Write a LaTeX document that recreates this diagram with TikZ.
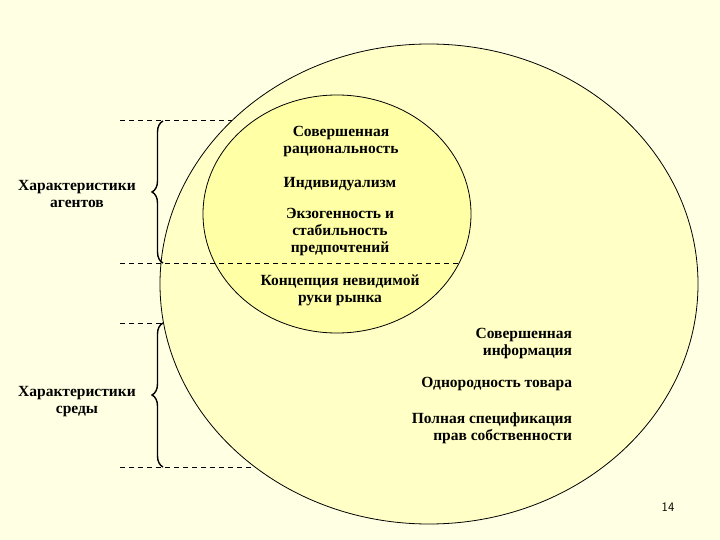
\documentclass[tikz,border=0pt]{standalone}
\usepackage{fontspec}
\setmainfont{Liberation Serif}
\usetikzlibrary{decorations.pathreplacing}
\definecolor{pagebg}{HTML}{FFFFE3}
\definecolor{outerfill}{HTML}{FFFFC6}
\definecolor{innerfill}{HTML}{FFFFA6}
\tikzset{
  lbl/.style={font=\bfseries\fontsize{15.5}{17}\selectfont, align=center, inner sep=0pt, outer sep=0pt},
  lblr/.style={lbl, align=right, anchor=east},
  guide/.style={draw=black, line width=0.7pt, dash pattern=on 5pt off 4pt},
  curly/.style={draw=black, line width=1.4pt, decorate, decoration={brace, amplitude=11pt}}
}
\begin{document}
\begin{tikzpicture}[x=1pt, y=1pt, yscale=-1]
  \fill[pagebg] (0,0) rectangle (720,540);
  \useasboundingbox (0,0) rectangle (720,540);
  % circles
  \path[draw=black, fill=outerfill, line width=0.8pt] (429,284) ellipse (269 and 240);
  \path[draw=black, fill=innerfill, line width=0.8pt] (337,214) ellipse (134 and 119);
  % guide lines
  \coordinate (ga1) at (120,120);
  \coordinate (gb1) at (232,120);
  \coordinate (ga2) at (120,263);
  \coordinate (gb2) at (461,263);
  \coordinate (ga3) at (120,323);
  \coordinate (gb3) at (164,323);
  \coordinate (ga4) at (120,467);
  \coordinate (gb4) at (256,467);
  \draw[guide] (ga1) -- (gb1);
  \draw[guide] (ga2) -- (gb2);
  \draw[guide] (ga3) -- (gb3);
  \draw[guide] (ga4) -- (gb4);
  % braces
  \coordinate (ba1) at (163,263);
  \coordinate (bb1) at (163,121);
  \coordinate (ba2) at (163,467);
  \coordinate (bb2) at (163,323);
  \draw[curly] (ba1) -- (bb1);
  \draw[curly] (ba2) -- (bb2);
  % inner texts
  \node[lbl] (ratio) at (341,142) {Совершенная\\рациональность};
  \node[lbl] (indiv) at (340,184) {Индивидуализм};
  \node[lbl] (exog) at (340,232) {Экзогенность и\\стабильность\\предпочтений};
  \node[lbl] (hand) at (340,290) {Концепция невидимой\\руки рынка};
  % outer texts
  \node[lblr] (info) at (572,344) {Совершенная\\информация};
  \node[lblr] (homog) at (572,384) {Однородность товара};
  \node[lblr] (prop) at (572,428) {Полная спецификация\\прав собственности};
  % left texts
  \node[lbl] (agents) at (77,194) {Характеристики\\агентов};
  \node[lbl] (env) at (77,402) {Характеристики\\среды};
  \node[font=\sffamily\fontsize{13}{15}\selectfont, inner sep=0pt] (pnum) at (668,507) {14};
\end{tikzpicture}
\end{document}
